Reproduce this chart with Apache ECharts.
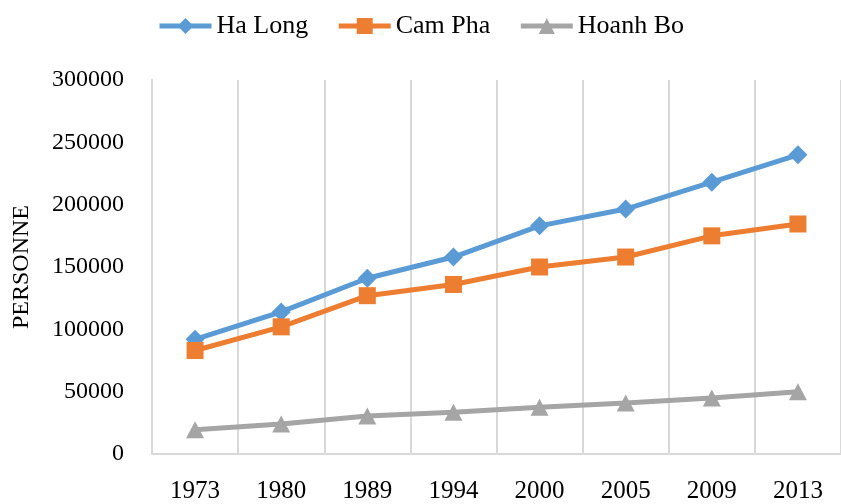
<!DOCTYPE html>
<html>
<head>
<meta charset="utf-8">
<script src="https://cdn.jsdelivr.net/npm/echarts@6/dist/echarts.min.js"></script>
<style>html,body{margin:0;padding:0;background:#fff;}#c{width:841px;height:504px;}</style>
</head>
<body>
<div id="c"></div>
<script>
var years = ['1973','1980','1989','1994','2000','2005','2009','2013'];
var haLong = [92000, 114000, 141000, 158000, 183000, 196500, 218000, 240000];
var camPha = [83000, 102000, 127000, 136000, 150000, 158000, 175000, 184500];
var hoanhBo = [19500, 24000, 30500, 33500, 37500, 41000, 45000, 50000];
var yTicks = {min: 0, max: 300000, interval: 50000};

var font = '"Liberation Serif", "DejaVu Serif", serif';
var chart = echarts.init(document.getElementById('c'), null, {renderer: 'canvas'});
chart.setOption({
  animation: false,
  backgroundColor: '#fff',
  legend: {
    top: 8,
    left: 'center',
    itemWidth: 52,
    itemHeight: 20,
    itemGap: 28,
    lineStyle: {width: 5},
    textStyle: {fontFamily: font, fontSize: 26, color: '#000'},
    data: ['Ha Long', 'Cam Pha', 'Hoanh Bo']
  },
  grid: {left: 152, top: 80, width: 696, height: 378},
  xAxis: {
    type: 'category',
    data: years,
    boundaryGap: true,
    axisLine: {show: true, lineStyle: {color: '#d9d9d9', width: 2}},
    axisTick: {show: false},
    splitLine: {show: true, lineStyle: {color: '#d9d9d9', width: 2}},
    axisLabel: {fontFamily: font, fontSize: 25, color: '#000', margin: 25}
  },
  yAxis: {
    type: 'value',
    min: yTicks.min, max: yTicks.max, interval: yTicks.interval,
    name: 'PERSONNE',
    nameLocation: 'middle',
    nameGap: 118,
    nameRotate: 90,
    nameTextStyle: {fontFamily: font, fontSize: 24, color: '#000'},
    axisLine: {show: true, lineStyle: {color: '#d9d9d9', width: 2}},
    axisTick: {show: false},
    splitLine: {show: false},
    axisLabel: {fontFamily: font, fontSize: 24, color: '#000', margin: 28,
      formatter: function (v) { return String(v); }}
  },
  series: [
    {name: 'Ha Long', type: 'line', data: haLong, symbol: 'diamond', symbolSize: [19, 19],
     lineStyle: {width: 5, color: '#5B9BD5'}, itemStyle: {color: '#5B9BD5'}},
    {name: 'Cam Pha', type: 'line', data: camPha, symbol: 'rect', symbolSize: [17, 17],
     lineStyle: {width: 5, color: '#ED7D31'}, itemStyle: {color: '#ED7D31'}},
    {name: 'Hoanh Bo', type: 'line', data: hoanhBo, symbol: 'triangle', symbolSize: [18, 17],
     lineStyle: {width: 5, color: '#A5A5A5'}, itemStyle: {color: '#A5A5A5'}}
  ]
});
</script>
</body>
</html>
